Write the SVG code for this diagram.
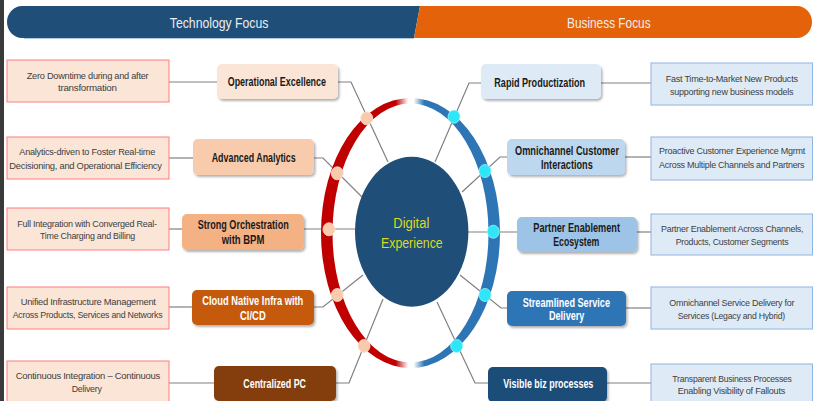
<svg xmlns="http://www.w3.org/2000/svg" width="814" height="401" viewBox="0 0 814 401">
<style>
.dl{fill:#FBE5D6;stroke:#FF7C80;stroke-width:1}
.dr{fill:#DEEBF7;stroke:#8EB4E3;stroke-width:1}
.dt{font-family:"Liberation Sans",Arial,sans-serif;font-size:9px;letter-spacing:-0.25px;fill:#404040}
.nt{font-family:"Liberation Sans",Arial,sans-serif;font-size:12px;font-weight:bold;fill:#1A1A1A}
.nw{fill:#FFFFFF}
.bt{font-family:"Liberation Sans",Arial,sans-serif;font-size:14px;fill:#EDEDED}
.ct{font-family:"Liberation Sans",Arial,sans-serif;font-size:14px;fill:#DADA1E}
.cn{fill:none;stroke:#808080;stroke-width:1.2}
.node{filter:url(#sh)}
.dL{fill:#F8CBAD;stroke:#FBE5D6;stroke-width:0.8}
.dR{fill:#2DE6F7;stroke:#9FF3FB;stroke-width:0.8}
</style>
<defs>
<filter id="sh" x="-10%" y="-20%" width="125%" height="150%">
<feDropShadow dx="1.5" dy="2" stdDeviation="1.2" flood-color="#000" flood-opacity="0.3"/>
</filter>
<linearGradient id="rg" gradientUnits="userSpaceOnUse" x1="320" y1="0" x2="500" y2="0">
<stop offset="0" stop-color="#C00000"/>
<stop offset="0.42" stop-color="#C00000"/>
<stop offset="0.49" stop-color="#FFFFFF"/>
<stop offset="0.52" stop-color="#FFFFFF"/>
<stop offset="0.58" stop-color="#2E75B6"/>
<stop offset="1" stop-color="#2E75B6"/>
</linearGradient>
</defs>
<rect x="0" y="0" width="814" height="401" fill="#FFFFFF"/>
<rect x="0" y="0" width="4" height="401" fill="#3A3A3A"/>

<g id="banner">
<path d="M420,6 L22,6 A15,16 0 0 0 22,38 L414,38 Z" fill="#1F4E79"/>
<path d="M420,6 L797,6 A15,16 0 0 1 797,38 L414,38 Z" fill="#E3620A"/>
<line x1="24" y1="38.6" x2="414" y2="38.6" stroke="#A9C4DE" stroke-width="1"/>
<text class="bt" x="169.8" y="28.3" textLength="98.6" lengthAdjust="spacingAndGlyphs">Technology Focus</text>
<text class="bt" x="567" y="28.3" textLength="83.6" lengthAdjust="spacingAndGlyphs">Business Focus</text>
</g>

<g id="connectors">
<polyline class="cn" points="169,82 217,82"/>
<polyline class="cn" points="169,158 193,158"/>
<polyline class="cn" points="169,229 182,229"/>
<polyline class="cn" points="169,307 192,307"/>
<polyline class="cn" points="169,383 214,383"/>
<polyline class="cn" points="601,83 651,83"/>
<polyline class="cn" points="625,157 651,157"/>
<polyline class="cn" points="637,232 651,232"/>
<polyline class="cn" points="626,308 651,308"/>
<polyline class="cn" points="607,383 651,383"/>
<polyline class="cn" points="338,82 351,82 388,162"/>
<polyline class="cn" points="314,158 323,158 362,197"/>
<polyline class="cn" points="304,229 356,229"/>
<polyline class="cn" points="314,307 323,307 363,275"/>
<polyline class="cn" points="336,383 349,383 383,299"/>
<polyline class="cn" points="481,83 469,83 435,162"/>
<polyline class="cn" points="507,157 500,157 462,192"/>
<polyline class="cn" points="517,232 467,232"/>
<polyline class="cn" points="507,308 501,308 460,275"/>
<polyline class="cn" points="488,383 475,383 437,302"/>
</g>

<g id="ring">
<path fill="url(#rg)" fill-rule="evenodd" d="M321,233 A89.5,135 0 1 0 500,233 A89.5,135 0 1 0 321,233 Z M332.5,233 A78,129.5 0 1 0 488.5,233 A78,129.5 0 1 0 332.5,233 Z"/>
<ellipse class="dL" cx="366.7" cy="118.3" rx="6" ry="6.5"/>
<ellipse class="dL" cx="337.3" cy="173.3" rx="6" ry="6.5"/>
<ellipse class="dL" cx="329" cy="229.3" rx="6" ry="6.5"/>
<ellipse class="dL" cx="337.3" cy="295" rx="6" ry="6.5"/>
<ellipse class="dL" cx="364" cy="346" rx="6" ry="6.5"/>
<ellipse class="dR" cx="454" cy="116.7" rx="6" ry="6.5"/>
<ellipse class="dR" cx="485" cy="171" rx="6" ry="6.5"/>
<ellipse class="dR" cx="493.3" cy="231.7" rx="6" ry="6.5"/>
<ellipse class="dR" cx="485" cy="295" rx="6" ry="6.5"/>
<ellipse class="dR" cx="456.7" cy="346" rx="6" ry="6.5"/>
</g>

<g id="center">
<ellipse cx="411.7" cy="231.7" rx="56.7" ry="75" fill="#1F4E79"/>
<text class="ct" x="393.3" y="228.3" textLength="36" lengthAdjust="spacingAndGlyphs">Digital</text>
<text class="ct" x="381" y="247.7" textLength="61.7" lengthAdjust="spacingAndGlyphs">Experience</text>
</g>

<g id="d-left-1"><rect class="dl" x="7" y="60" width="162" height="42"/>
<text class="dt" x="26.7" y="79" textLength="121.7" lengthAdjust="spacingAndGlyphs">Zero Downtime during and after</text>
<text class="dt" x="58" y="91" textLength="58.7" lengthAdjust="spacingAndGlyphs">transformation</text></g>
<g id="d-left-2"><rect class="dl" x="7" y="137" width="162" height="42"/>
<text class="dt" x="19.3" y="155" textLength="135.7" lengthAdjust="spacingAndGlyphs">Analytics-driven to Foster Real-time</text>
<text class="dt" x="9.3" y="168.7" textLength="152.4" lengthAdjust="spacingAndGlyphs">Decisioning, and Operational Efficiency</text></g>
<g id="d-left-3"><rect class="dl" x="7" y="208" width="162" height="42"/>
<text class="dt" x="17.3" y="226.7" textLength="139.4" lengthAdjust="spacingAndGlyphs">Full Integration with Converged Real-</text>
<text class="dt" x="40" y="239.4" textLength="95" lengthAdjust="spacingAndGlyphs">Time Charging and Billing</text></g>
<g id="d-left-4"><rect class="dl" x="7" y="287" width="162" height="42"/>
<text class="dt" x="20.7" y="305" textLength="135" lengthAdjust="spacingAndGlyphs">Unified Infrastructure Management</text>
<text class="dt" x="12.7" y="317.7" textLength="149.6" lengthAdjust="spacingAndGlyphs">Across Products, Services and Networks</text></g>
<g id="d-left-5"><rect class="dl" x="7" y="361" width="162" height="45"/>
<text class="dt" x="15.7" y="379.4" textLength="144.3" lengthAdjust="spacingAndGlyphs">Continuous Integration – Continuous</text>
<text class="dt" x="71.7" y="392" textLength="30" lengthAdjust="spacingAndGlyphs">Delivery</text></g>

<g id="n-operational-excellence"><rect class="node" x="217" y="64" width="121" height="35" rx="5" fill="#FBE5D6"/>
<text class="nt" x="227.7" y="86" textLength="98.3" lengthAdjust="spacingAndGlyphs">Operational Excellence</text></g>
<g id="n-advanced-analytics"><rect class="node" x="193" y="139" width="121" height="36" rx="5" fill="#F8CBAD"/>
<text class="nt" x="211.7" y="161.6" textLength="84" lengthAdjust="spacingAndGlyphs">Advanced Analytics</text></g>
<g id="n-strong-orchestration"><rect class="node" x="182" y="214" width="122" height="36" rx="5" fill="#F4B183"/>
<text class="nt" x="197.7" y="229.3" textLength="91" lengthAdjust="spacingAndGlyphs">Strong Orchestration</text>
<text class="nt" x="221.7" y="244.3" textLength="42.6" lengthAdjust="spacingAndGlyphs">with BPM</text></g>
<g id="n-cloud-native"><rect class="node" x="192" y="290" width="122" height="35" rx="5" fill="#C55A11"/>
<text class="nt nw" x="202.3" y="305.3" textLength="101" lengthAdjust="spacingAndGlyphs">Cloud Native Infra with</text>
<text class="nt nw" x="240" y="319.6" textLength="25.7" lengthAdjust="spacingAndGlyphs">CI/CD</text></g>
<g id="n-centralized-pc"><rect class="node" x="214" y="366" width="122" height="35" rx="5" fill="#843C0C"/>
<text class="nt nw" x="243.3" y="387.6" textLength="62.7" lengthAdjust="spacingAndGlyphs">Centralized PC</text></g>

<g id="n-rapid-productization"><rect class="node" x="481" y="64" width="120" height="35" rx="5" fill="#DEEBF7"/>
<text class="nt" x="494.3" y="86.6" textLength="90.7" lengthAdjust="spacingAndGlyphs">Rapid Productization</text></g>
<g id="n-omnichannel"><rect class="node" x="507" y="139" width="118" height="36" rx="5" fill="#BDD7EE"/>
<text class="nt" x="515" y="155" textLength="104" lengthAdjust="spacingAndGlyphs">Omnichannel Customer</text>
<text class="nt" x="541" y="169.3" textLength="51.7" lengthAdjust="spacingAndGlyphs">Interactions</text></g>
<g id="n-partner-enablement"><rect class="node" x="517" y="217" width="120" height="35" rx="5" fill="#9DC3E6"/>
<text class="nt" x="533.3" y="231.6" textLength="86.7" lengthAdjust="spacingAndGlyphs">Partner Enablement</text>
<text class="nt" x="553.3" y="246" textLength="46" lengthAdjust="spacingAndGlyphs">Ecosystem</text></g>
<g id="n-streamlined"><rect class="node" x="507" y="291" width="119" height="35" rx="5" fill="#2E75B6"/>
<text class="nt nw" x="522.7" y="306.6" textLength="87.3" lengthAdjust="spacingAndGlyphs">Streamlined Service</text>
<text class="nt nw" x="549" y="320" textLength="35.3" lengthAdjust="spacingAndGlyphs">Delivery</text></g>
<g id="n-visible-biz"><rect class="node" x="488" y="367" width="119" height="35" rx="5" fill="#1F4E79"/>
<text class="nt nw" x="503.3" y="388.3" textLength="90" lengthAdjust="spacingAndGlyphs">Visible biz processes</text></g>

<g id="d-right-1"><rect class="dr" x="651" y="63" width="161.5" height="42"/>
<text class="dt" x="665.7" y="81.7" textLength="132" lengthAdjust="spacingAndGlyphs">Fast Time-to-Market New Products</text>
<text class="dt" x="670" y="95.1" textLength="123.3" lengthAdjust="spacingAndGlyphs">supporting new business models</text></g>
<g id="d-right-2"><rect class="dr" x="651" y="137" width="161.5" height="43"/>
<text class="dt" x="659" y="154.1" textLength="146" lengthAdjust="spacingAndGlyphs">Proactive Customer Experience Mgrmt</text>
<text class="dt" x="659" y="167.7" textLength="145.3" lengthAdjust="spacingAndGlyphs">Across Multiple Channels and Partners</text></g>
<g id="d-right-3"><rect class="dr" x="651" y="214" width="161.5" height="41"/>
<text class="dt" x="661" y="232.4" textLength="142.3" lengthAdjust="spacingAndGlyphs">Partner Enablement Across Channels,</text>
<text class="dt" x="675.7" y="245.1" textLength="112.6" lengthAdjust="spacingAndGlyphs">Products, Customer Segments</text></g>
<g id="d-right-4"><rect class="dr" x="651" y="287" width="161.5" height="42"/>
<text class="dt" x="669.3" y="306.1" textLength="125" lengthAdjust="spacingAndGlyphs">Omnichannel Service Delivery for</text>
<text class="dt" x="677.7" y="318.7" textLength="107.3" lengthAdjust="spacingAndGlyphs">Services (Legacy and Hybrid)</text></g>
<g id="d-right-5"><rect class="dr" x="651" y="364" width="161.5" height="42"/>
<text class="dt" x="672.3" y="382.4" textLength="119.4" lengthAdjust="spacingAndGlyphs">Transparent Business Processes</text>
<text class="dt" x="677.7" y="394.4" textLength="107.3" lengthAdjust="spacingAndGlyphs">Enabling Visibility of Fallouts</text></g>
</svg>
